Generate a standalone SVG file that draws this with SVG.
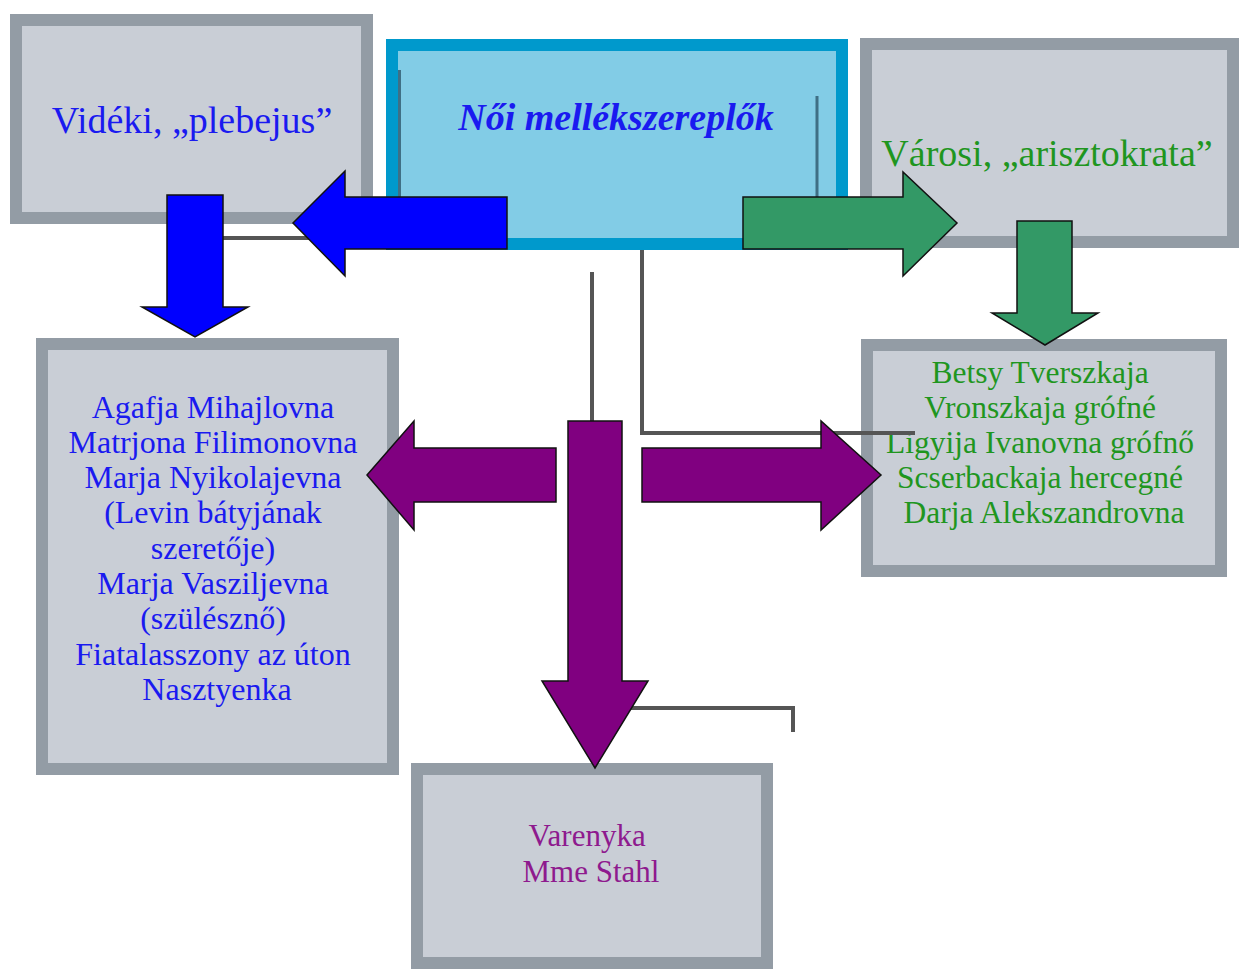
<svg xmlns="http://www.w3.org/2000/svg" width="1239" height="969" viewBox="0 0 1239 969">
<style>
.box{fill:#C9CED6;stroke:#939CA5;stroke-width:12}
.center{fill:#82CCE6;stroke:#0099CC;stroke-width:12}
.t{font-family:"Liberation Serif","DejaVu Serif",serif;text-anchor:middle}
.big{font-size:38px}
.small{font-size:31.5px}
.blue{fill:#1A1AF0}
.green{fill:#1F961F}
.purple{fill:#8E1A8E}
.line{fill:none;stroke:#555;stroke-width:4}
.inner{fill:none;stroke:#3F6F85;stroke-width:3}
.arrow{stroke:#111;stroke-width:1.5;stroke-linejoin:miter}
</style>
<rect width="1239" height="969" fill="#fff"/>
<g id="node-videki">
<rect class="box" x="16" y="20" width="351" height="198"/>
<text class="t big blue" x="192" y="133">Vidéki, „plebejus”</text>
</g>
<g id="node-center">
<rect class="center" x="392" y="45" width="450" height="199"/>
<text class="t blue" x="616" y="130" font-size="38" font-weight="bold" font-style="italic">Női mellékszereplők</text>
</g>
<g id="node-varosi">
<rect class="box" x="866" y="44" width="367" height="198"/>
<text class="t big green" x="1047" y="166">Városi, „arisztokrata”</text>
</g>
<g id="node-left">
<rect class="box" x="42" y="344" width="351" height="425"/>
<text class="t blue" font-size="32">
<tspan x="217" y="418">Agafja Mihajlovna</tspan>
<tspan x="217" y="453">Matrjona Filimonovna</tspan>
<tspan x="217" y="488">Marja Nyikolajevna</tspan>
<tspan x="217" y="523">(Levin bátyjának</tspan>
<tspan x="217" y="559">szeretője)</tspan>
<tspan x="217" y="594">Marja Vasziljevna</tspan>
<tspan x="217" y="629">(szülésznő)</tspan>
<tspan x="217" y="665">Fiatalasszony az úton</tspan>
<tspan x="217" y="700">Nasztyenka</tspan>
</text>
</g>
<g id="node-right">
<rect class="box" x="867" y="345" width="354" height="226"/>
<text class="t small green">
<tspan x="1044" y="383">Betsy Tverszkaja</tspan>
<tspan x="1044" y="418">Vronszkaja grófné</tspan>
<tspan x="1044" y="453">Ligyija Ivanovna grófnő</tspan>
<tspan x="1044" y="488">Scserbackaja hercegné</tspan>
<tspan x="1044" y="523">Darja Alekszandrovna</tspan>
</text>
</g>
<g id="node-bottom">
<rect class="box" x="417" y="769" width="350" height="194"/>
<text class="t purple" font-size="31">
<tspan x="591" y="846">Varenyka</tspan>
<tspan x="591" y="882">Mme Stahl</tspan>
</text>
</g>
<g id="connectors">
<line class="inner" x1="399.5" y1="70" x2="399.5" y2="197"/>
<line class="inner" x1="817" y1="96" x2="817" y2="197"/>
<line class="line" x1="223" y1="238" x2="330" y2="238"/>
<line class="line" x1="592" y1="272" x2="592" y2="422"/>
<polyline class="line" points="642,250 642,433 915,433"/>
<polyline class="line" points="630,708 793,708 793,732"/>
<polygon class="arrow" fill="#0000FF" points="507,197 345,197 345,171 293,223 345,276 345,249 507,249"/>
<polygon class="arrow" fill="#0000FF" points="167,195 223,195 223,307 248,307 195,337 142,307 167,307"/>
<polygon class="arrow" fill="#339966" points="743,197 903,197 903,172 957,223 903,276 903,249 743,249"/>
<polygon class="arrow" fill="#339966" points="1017,221 1072,221 1072,313 1098,313 1045,345 992,313 1017,313"/>
<polygon class="arrow" fill="#800080" points="556,448 414,448 414,421 367,475 414,530 414,502 556,502"/>
<polygon class="arrow" fill="#800080" points="642,448 821,448 821,421 881,475 821,530 821,502 642,502"/>
<polygon class="arrow" fill="#800080" points="568,421 622,421 622,681 648,681 595,768 542,681 568,681"/>
</g>
</svg>
